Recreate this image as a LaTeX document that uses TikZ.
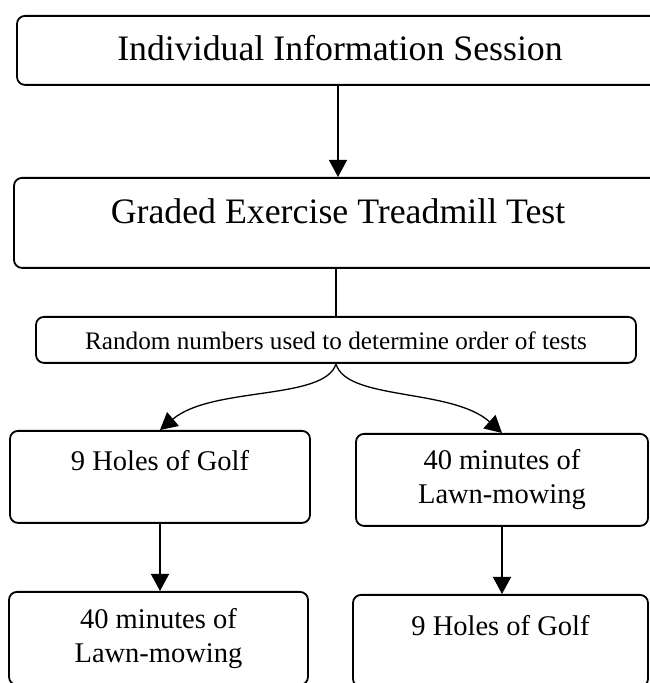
\documentclass[tikz,border=0pt]{standalone}
\usepackage{fontspec}
\setmainfont{Liberation Serif}
\usetikzlibrary{arrows.meta}
\newcommand{\bigSize}{\fontsize{35.8}{40}\selectfont}
\newcommand{\midSize}{\fontsize{28.5}{34}\selectfont}
\newcommand{\smallSize}{\fontsize{25.2}{30}\selectfont}

\begin{document}
\begin{tikzpicture}[x=1pt, y=1pt, line width=1.8pt,
    stage/.style={draw, rounded corners=8pt, inner xsep=0pt, inner ysep=0pt, anchor=north, align=center},
    flow/.style={line width=1.3pt, -{Triangle[length=17pt,width=18pt]}}]
	\useasboundingbox (0,0) rectangle (650,683);
	%\draw[help lines] (0,0) grid[step=50] (650,683);
		\node[stage, minimum width=646pt, text height=45pt, text depth=24pt, font=\bigSize] (info) at (340,668) {Individual Information Session};
		\node[stage, minimum width=648pt, text height=46pt, text depth=44pt, font=\bigSize] (graded) at (338,506) {Graded Exercise Treadmill Test};
		\node[stage, minimum width=600pt, text height=33pt, text depth=13pt, font=\smallSize] (random) at (336,367) {Random numbers used to determine order of tests};
		\node[stage, minimum width=300pt, text height=40pt, text depth=52pt, font=\midSize] (golfA) at (160,253) {9 Holes of Golf};
		\node[stage, minimum width=292pt, minimum height=92pt, font=\midSize] (mowA) at (502,250) {40 minutes of\\Lawn-mowing};
		\node[stage, minimum width=299pt, minimum height=93pt, font=\midSize] (mowB) at (158.5,92) {40 minutes of\\Lawn-mowing};
		\node[stage, minimum width=295pt, text height=41pt, text depth=51pt, font=\midSize] (golfB) at (500.5,89) {9 Holes of Golf};
		\draw[flow] (info.south -| graded.north) -- (graded.north);
		\draw[line width=1.3pt] (graded.south -| random.north) -- (random.north);
		\draw[flow] (random.south) .. controls +(-11,-37) and +(52,44) .. (golfA.north);
		\draw[flow] (random.south) .. controls +(10,-37) and +(-50,45) .. (mowA.north);
		\draw[flow] (golfA.south) -- (golfA.south |- mowB.north);
		\draw[flow] (mowA.south) -- (mowA.south |- golfB.north);
\end{tikzpicture}
\end{document}
